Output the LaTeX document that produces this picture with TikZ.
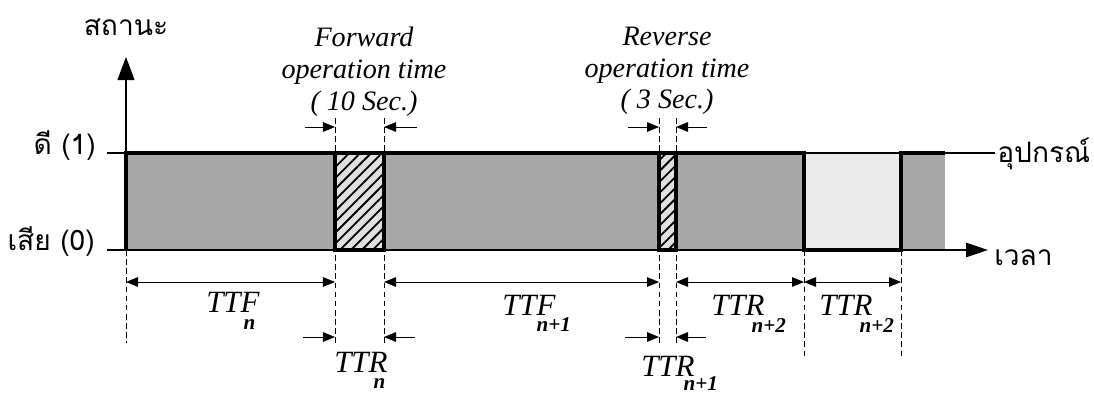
\documentclass[tikz,border=0pt]{standalone}
\usepackage{fontspec}
\setmainfont{Liberation Serif}
\newfontfamily\thaifont[Script=Thai]{Loma}
\usepackage{tikz}
\usetikzlibrary{arrows.meta, calc, patterns.meta}
\definecolor{upgray}{RGB}{168,168,168}
\definecolor{downgray}{RGB}{234,234,234}
\definecolor{hatchgray}{RGB}{224,224,224}
\newcommand{\subfont}{\fontsize{15}{17}\selectfont\bfseries\itshape}
\tikzset{
  levelline/.style={line width=0.8pt, color=black},
  stateline/.style={line width=2.2pt, color=black, line join=miter},
  axisarrow/.style={-{Triangle[length=0.575cm, width=0.425cm]}, line width=0.8pt},
  timearrow/.style={-{Triangle[length=0.55cm, width=0.36cm]}, line width=0.8pt},
  dimarrow/.style={{Triangle[length=0.3cm, width=0.24cm]}-{Triangle[length=0.3cm, width=0.24cm]},
    line width=0.7pt},
  ptarrow/.style={-{Triangle[length=0.3cm, width=0.24cm]}, line width=0.7pt},
  guide/.style={dash pattern=on 4pt off 2.5pt, line width=0.6pt},
  hatchbox/.style={fill=hatchgray,
    postaction={pattern={Lines[angle=45, distance=5.5pt, line width=1.3pt]}},
    draw, line width=2.2pt},
  thailbl/.style={font=\thaifont\fontsize{20}{24}\selectfont, inner sep=0pt},
  notelbl/.style={font=\fontsize{20}{22.5}\selectfont\itshape, align=center, inner sep=0pt},
  ttlbl/.style={font=\fontsize{22}{24}\selectfont\itshape, inner sep=0pt}
}

\begin{document}
\begin{tikzpicture}[x=0.025cm, y=-0.025cm]
  \useasboundingbox (0,0) rectangle (1094,393);

  % State boundaries on level 1, and the rows used for the time spans
  \coordinate (b0) at (126,153);
  \coordinate (b1) at (335,153);
  \coordinate (b2) at (384,153);
  \coordinate (b3) at (659,153);
  \coordinate (b4) at (676,153);
  \coordinate (b5) at (804,153);
  \coordinate (b6) at (901,153);
  \coordinate (b7) at (945,153);
  \coordinate (down) at (0,250);
  \coordinate (rowtop) at (0,127);
  \coordinate (rowa) at (0,282);
  \coordinate (rowb) at (0,337);
  \coordinate (upstart) at (107,153);
  \coordinate (upend) at (995,153);
  \coordinate (downstart) at (107,250);
  \coordinate (timeend) at (988,250);
  \coordinate (yend) at (126,57);

  % Dashed guides
  \foreach \b in {b1,b2,b3,b4}
    \draw[guide] ($(\b)+(0,-35)$) -- ($(\b |- down)+(0,93)$);
  \draw[guide] (b0 |- down) -- ($(b0 |- down)+(0,93)$);
  \foreach \b in {b5,b6}
    \draw[guide] (\b |- down) -- ($(\b |- down)+(0,106)$);

  % Up / down periods
  \fill[upgray] (b0) rectangle (b1 |- down);
  \fill[upgray] (b2) rectangle (b3 |- down);
  \fill[upgray] (b4) rectangle (b5 |- down);
  \fill[downgray] (b5) rectangle (b6 |- down);
  \fill[upgray] (b6) rectangle (b7 |- down);

  % Axes and levels
  \draw[levelline] (upstart) -- (upend);
  \draw[timearrow] (downstart) -- (timeend);
  \draw[axisarrow] (b0 |- down) -- (yend);

  % Equipment state
  \draw[stateline] (b0 |- down) -- (b0) -- (b1) -- (b1 |- down) -- (b2 |- down) -- (b2)
    -- (b3) -- (b3 |- down) -- (b4 |- down) -- (b4) -- (b5) -- (b5 |- down)
    -- (b6 |- down) -- (b6) -- (b7);
  \path[hatchbox] (b1) rectangle (b2 |- down);
  \path[hatchbox] (b3) rectangle (b4 |- down);

  % Axis labels
  \node[thailbl, anchor=base] (state) at (126,36) {สถานะ};
  \node[thailbl, anchor=base east] (good) at (96,155) {ดี (1)};
  \node[thailbl, anchor=base east] (bad) at (95,251) {เสีย (0)};
  \node[thailbl, anchor=base west] (device) at (997,163) {อุปกรณ์};
  \node[thailbl, anchor=base west] (time) at (994,266) {เวลา};

  % Switching times
  \node[notelbl, anchor=north] (fwd) at (364,27) {Forward\\operation time\\( 10 Sec.)};
  \node[notelbl, anchor=north] (rev) at (667,27) {Reverse\\operation time\\( 3 Sec.)};
  \draw[ptarrow] ($(b1 |- rowtop)+(-30,0)$) -- (b1 |- rowtop);
  \draw[ptarrow] ($(b2 |- rowtop)+(33,0)$) -- (b2 |- rowtop);
  \draw[ptarrow] ($(b3 |- rowtop)+(-31,0)$) -- (b3 |- rowtop);
  \draw[ptarrow] ($(b4 |- rowtop)+(31,0)$) -- (b4 |- rowtop);

  % Time spans
  \draw[dimarrow] (b0 |- rowa) -- (b1 |- rowa);
  \draw[dimarrow] (b2 |- rowa) -- (b3 |- rowa);
  \draw[dimarrow] (b4 |- rowa) -- (b5 |- rowa);
  \draw[dimarrow] (b5 |- rowa) -- (b6 |- rowa);
  \draw[ptarrow] ($(b1 |- rowb)+(-32,0)$) -- (b1 |- rowb);
  \draw[ptarrow] ($(b2 |- rowb)+(31,0)$) -- (b2 |- rowb);
  \draw[ptarrow] ($(b3 |- rowb)+(-34,0)$) -- (b3 |- rowb);
  \draw[ptarrow] ($(b4 |- rowb)+(30,0)$) -- (b4 |- rowb);

  \node[ttlbl, anchor=base west] (ttf1) at (206,313) {TTF\kern-11.4pt\raisebox{-11.4pt}{\subfont n}};
  \node[ttlbl, anchor=base west] (ttr1) at (334,373) {TTR\kern-10pt\raisebox{-11pt}{\subfont n}};
  \node[ttlbl, anchor=base west] (ttf2) at (502,316) {TTF\kern-13.5pt\raisebox{-10.7pt}{\subfont n+1}};
  \node[ttlbl, anchor=base west] (ttr2) at (641,376) {TTR\kern-7.8pt\raisebox{-10pt}{\subfont n+1}};
  \node[ttlbl, anchor=base west] (ttr3) at (711,316) {TTR\kern-9.2pt\raisebox{-11.4pt}{\subfont n+2}};
  \node[ttlbl, anchor=base west] (ttr4) at (819,316) {TTR\kern-9.2pt\raisebox{-11.4pt}{\subfont n+2}};
\end{tikzpicture}
\end{document}
